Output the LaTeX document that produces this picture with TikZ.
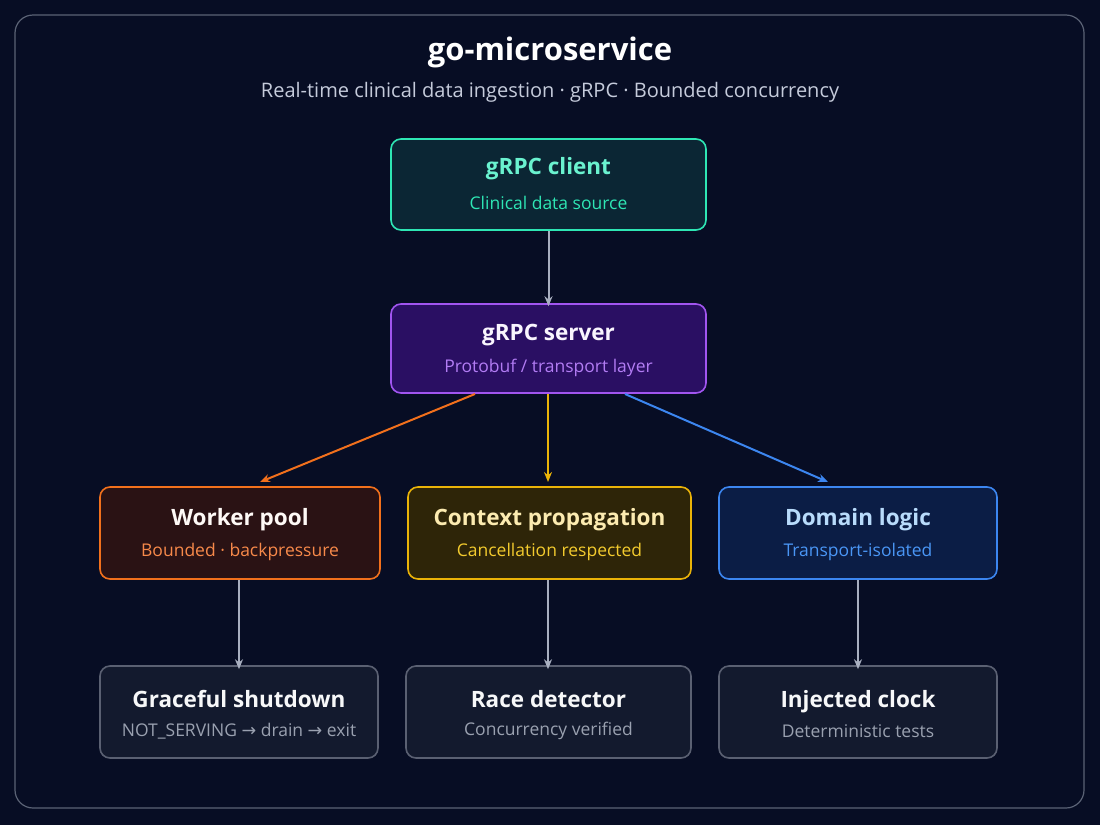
\documentclass[tikz,border=0pt]{standalone}
\usepackage{fontspec}
\setmainfont{Open Sans}
\newfontfamily\dv{DejaVu Sans}
\usetikzlibrary{arrows.meta}
\definecolor{bg}{HTML}{070D24}
\definecolor{frame}{HTML}{5A6275}
\definecolor{tealB}{HTML}{2EE6B4}\definecolor{tealF}{HTML}{0B2634}\definecolor{tealT}{HTML}{6AF2CF}
\definecolor{purB}{HTML}{A155F0}\definecolor{purF}{HTML}{2A0F63}\definecolor{purS}{HTML}{B27CF4}
\definecolor{orB}{HTML}{F2701C}\definecolor{orF}{HTML}{2A1214}\definecolor{orS}{HTML}{F7894A}
\definecolor{yeB}{HTML}{EAB308}\definecolor{yeF}{HTML}{2E2508}\definecolor{yeT}{HTML}{FCEBB0}\definecolor{yeS}{HTML}{F3CB2E}
\definecolor{blB}{HTML}{3C86F0}\definecolor{blF}{HTML}{0B1D45}\definecolor{blT}{HTML}{B8DBFB}\definecolor{blS}{HTML}{4A96F5}
\definecolor{grB}{HTML}{5A6072}\definecolor{grF}{HTML}{131A2E}\definecolor{grS}{HTML}{9AA1B0}
\definecolor{arr}{HTML}{A8AFC0}\definecolor{subt}{HTML}{C5CBDB}
\tikzset{
 box/.style={draw, line width=1.6pt, rounded corners=10pt, minimum height=91pt, inner sep=0pt},
 ttl/.style={font=\fontsize{22.5}{24}\selectfont\bfseries},
 sub/.style={font=\fontsize{17.5}{19}\selectfont},
 con/.style={-{Stealth[length=10pt,width=8pt]}, line width=2pt},
}
\newcommand{\bx}[7]{% name, x1, x2, y1, y2, border, fill
 \node[box, draw=#6, fill=#7, minimum width={(#3-#2)*1pt}, minimum height={(#5-#4)*1pt}] (#1) at ({(#2+#3)/2},{-(#4+#5)/2}) {};}
\begin{document}
\begin{tikzpicture}[x=1pt,y=1pt]
\useasboundingbox (0,0) rectangle (1100,-825);
\fill[bg] (0,0) rectangle (1100,-825);
\node[draw=frame, line width=1.2pt, rounded corners=18pt, minimum width=1069pt, minimum height=793pt] (frm) at (549.5,-411.5) {};
\node[text=white, font=\fontsize{31}{34}\selectfont\bfseries] (title) at (550,-52) {go-microservice};
\node[text=subt, font=\fontsize{20}{22}\selectfont] (subtitle) at (550,-92) {Real-time clinical data ingestion · gRPC · Bounded concurrency};
% boxes
\bx{cli}{391}{706}{139}{230}{tealB}{tealF}
\node[ttl,text=tealT] (cliT) at (548.5,-169) {gRPC client};
\node[sub,text=tealB] (cliS) at (548.5,-203) {Clinical data source};
\bx{srv}{391}{706}{304}{393}{purB}{purF}
\node[ttl,text=white!92!purS] (srvT) at (548.5,-335) {gRPC server};
\node[sub,text=purS] (srvS) at (548.5,-368) {Protobuf / transport layer};
\bx{wrk}{100}{380}{487}{579}{orB}{orF}
\node[ttl,text=white!95!orS] (wrkT) at (240,-520) {Worker pool};
\node[sub,text=orS] (wrkS) at (240,-552) {Bounded · backpressure};
\bx{ctx}{408}{691}{487}{579}{yeB}{yeF}
\node[ttl,text=yeT] (ctxT) at (549.5,-520) {Context propagation};
\node[sub,text=yeS] (ctxS) at (549.5,-552) {Cancellation respected};
\bx{dom}{719}{997}{487}{579}{blB}{blF}
\node[ttl,text=blT] (domT) at (858,-520) {Domain logic};
\node[sub,text=blS] (domS) at (858,-552) {Transport-isolated};
\bx{gs}{100}{378}{666}{758}{grB}{grF}
\node[ttl,text=white!92!grS] (gsT) at (239,-699) {Graceful shutdown};
\node[sub,text=grS] (gsS) at (239,-731) {NOT\_SERVING {\dv→} drain {\dv→} exit};
\bx{rd}{406}{691}{666}{758}{grB}{grF}
\node[ttl,text=white!92!grS] (rdT) at (548.5,-699) {Race detector};
\node[sub,text=grS] (rdS) at (548.5,-731) {Concurrency verified};
\bx{ic}{719}{997}{666}{758}{grB}{grF}
\node[ttl,text=white!92!grS,anchor=base] (icT) at (858,-707) {Injected clock};
\node[sub,text=grS] (icS) at (858,-731) {Deterministic tests};
% connectors
\coordinate (s1) at (475,-394); \coordinate (s2) at (548,-394); \coordinate (s3) at (625,-394);
\coordinate (w1) at (260,-482); \coordinate (c1) at (548,-482); \coordinate (d1) at (828,-482);
\draw[con,arr] (cli.south) -- ([yshift=-3pt]srv.north);
\draw[con,orB] (s1) -- (w1);
\draw[con,yeB] (s2) -- (c1);
\draw[con,blB] (s3) -- (d1);
\draw[con,arr] (wrk.south -| 239,0) -- ([yshift=-4pt]gs.north -| 239,0);
\draw[con,arr] (ctx.south -| 548,0) -- ([yshift=-4pt]rd.north -| 548,0);
\draw[con,arr] (dom.south -| 858,0) -- ([yshift=-4pt]ic.north -| 858,0);
\end{tikzpicture}
\end{document}
